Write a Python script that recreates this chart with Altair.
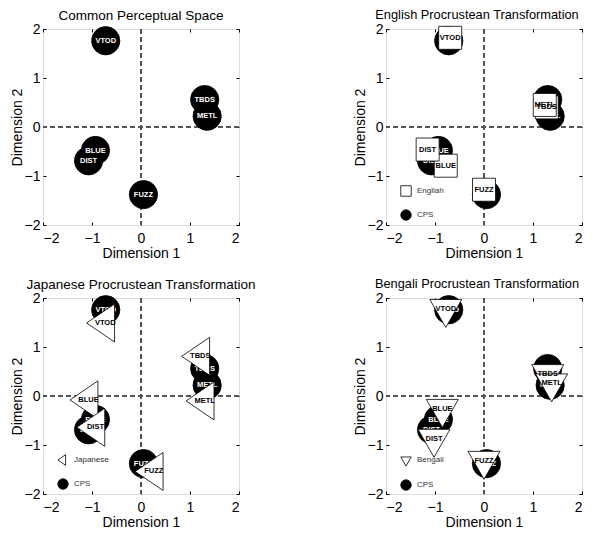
import altair as alt
import pandas as pd

# ---- data ----
names = ["VTOD", "TBDS", "METL", "BLUE", "DIST", "FUZZ"]
cps_x = [-0.72, 1.30, 1.35, -0.93, -1.07, 0.05]
cps_y = [1.76, 0.56, 0.22, -0.48, -0.69, -1.38]
eng_x = [-0.69, 1.28, 1.24, -0.78, -1.15, 0.00]
eng_y = [1.82, 0.40, 0.45, -0.79, -0.46, -1.28]
jap_x = [-0.73, 1.21, 1.30, -1.07, -0.93, 0.26]
jap_y = [1.49, 0.81, -0.10, -0.08, -0.64, -1.54]
ben_x = [-0.78, 1.30, 1.38, -0.85, -1.02, 0.00]
ben_y = [1.78, 0.45, 0.26, -0.26, -0.87, -1.32]
tick_values = [-2, -1, 0, 1, 2]
panel_titles = ["Common Perceptual Space", "English Procrustean Transformation",
                "Japanese Procrustean Transformation", "Bengali Procrustean Transformation"]
legend_labels = ["Engliah", "Japanese", "Bengali"]
cps_label = "CPS"

FONT = "Liberation Sans"
W = 196

# marker shapes (centroid-centred triangles like MATLAB)
TRI_LEFT = "M-0.98,0L0.49,-1L0.49,1Z"
TRI_DOWN = "M-1,-0.583L1,-0.583L0,1.167Z"


def scale():
    return alt.Scale(domain=[-2, 2], nice=False, zero=False)


def axis(orient, labels=True, title=None):
    kw = dict(orient=orient, values=tick_values, offset=-3, tickSize=3, domain=False,
              grid=False, tickColor="black", tickWidth=1)
    if labels:
        kw.update(labelFontSize=14, labelColor="black", labelFont=FONT,
                  labelPadding=6 if orient == "bottom" else 3,
                  title=title, titleFontSize=14, titleFontWeight="normal",
                  titleFont=FONT, titleColor="black",
                  titlePadding=1 if orient == "bottom" else 0)
    else:
        kw.update(labels=False, title=None)
    return alt.Axis(**kw)


def panel(idx, ox=None, oy=None, label=None, shape=None, size=None, tsize=13.5, tdx=0):
    cps = pd.DataFrame({"name": names, "x": cps_x, "y": cps_y, "series": cps_label})
    zero_v = alt.Chart(cps).mark_rule(strokeDash=[5, 3], color="#555", strokeWidth=1).encode(
        x=alt.XDatum(0, scale=scale(), axis=None))
    zero_h = alt.Chart(cps).mark_rule(strokeDash=[5, 3], color="#555", strokeWidth=1).encode(
        y=alt.YDatum(0, scale=scale(), axis=None))

    if label is not None:
        leg = alt.Legend(title=None, orient="none", legendX=14, legendY=156, padding=0,
                         rowPadding=10, symbolSize=110, symbolStrokeColor="black",
                         symbolStrokeWidth=0.8, labelFontSize=8, labelColor="#333",
                         labelFont=FONT, labelOffset=5)
        dom = [label, cps_label]
        shape_enc = alt.Shape("series:N", scale=alt.Scale(domain=dom, range=[shape, "circle"]), legend=leg)
        fill_enc = alt.Fill("series:N", scale=alt.Scale(domain=dom, range=["white", "black"]), legend=leg)
        stroke_enc = alt.Stroke("series:N", scale=alt.Scale(domain=dom, range=["black", "black"]), legend=leg)
    else:
        shape_enc = alt.value("circle")
        fill_enc = alt.value("black")
        stroke_enc = alt.value("black")

    circles = alt.Chart(cps).mark_point(filled=True, size=800, strokeWidth=0.8,
                                        opacity=1).encode(
        x=alt.X("x:Q", scale=scale(), axis=axis("bottom", title="Dimension 1")),
        y=alt.Y("y:Q", scale=scale(), axis=axis("left", title="Dimension 2")),
        shape=shape_enc, fill=fill_enc, stroke=stroke_enc)
    ctext = alt.Chart(cps).mark_text(color="white", fontWeight="bold", fontSize=7.5, font=FONT).encode(
        x=alt.X("x:Q", scale=scale(), axis=axis("top", labels=False)),
        y=alt.Y("y:Q", scale=scale(), axis=axis("right", labels=False)),
        text="name:N")
    layers = [zero_v, zero_h, circles, ctext]

    if label is not None:
        od = pd.DataFrame({"name": names, "x": ox, "y": oy, "series": label})
        over = alt.Chart(od).mark_point(filled=True, size=size, strokeWidth=0.8,
                                        opacity=1).encode(
            x=alt.X("x:Q", scale=scale(), axis=None),
            y=alt.Y("y:Q", scale=scale(), axis=None),
            shape=shape_enc, fill=fill_enc, stroke=stroke_enc)
        otext = alt.Chart(od).mark_text(color="black", fontWeight="bold", fontSize=7.5, font=FONT).encode(
            x=alt.X("x:Q", scale=scale(), axis=None),
            y=alt.Y("y:Q", scale=scale(), axis=None),
            text="name:N")
        layers += [over, otext]

    return alt.layer(*layers).resolve_axis(x="independent", y="independent").properties(
        width=W, height=W,
        title=alt.TitleParams(panel_titles[idx], fontSize=tsize, fontWeight="normal", font=FONT,
                              anchor="middle", offset=0, color="black", dx=tdx))


p1 = panel(0)
p2 = panel(1, eng_x, eng_y, legend_labels[0], "square", 529, tsize=12.8, tdx=-7)
p3 = panel(2, jap_x, jap_y, legend_labels[1], TRI_LEFT, 1444)
p4 = panel(3, ben_x, ben_y, legend_labels[2], TRI_DOWN, 1024, tsize=12.8, tdx=-7)

chart = alt.concat(p1, p2, p3, p4, columns=2, bounds="flush",
                   spacing=alt.RowColnumber(row=73, column=147)).resolve_scale(
    shape="independent", fill="independent", stroke="independent"
).properties(padding={"left": 1, "top": 0, "right": 0, "bottom": 0}).configure_view(
    stroke="#444", strokeWidth=1
).configure(font=FONT, background="white")

chart.save("out.html", embed_options={"renderer": "svg", "actions": False})
